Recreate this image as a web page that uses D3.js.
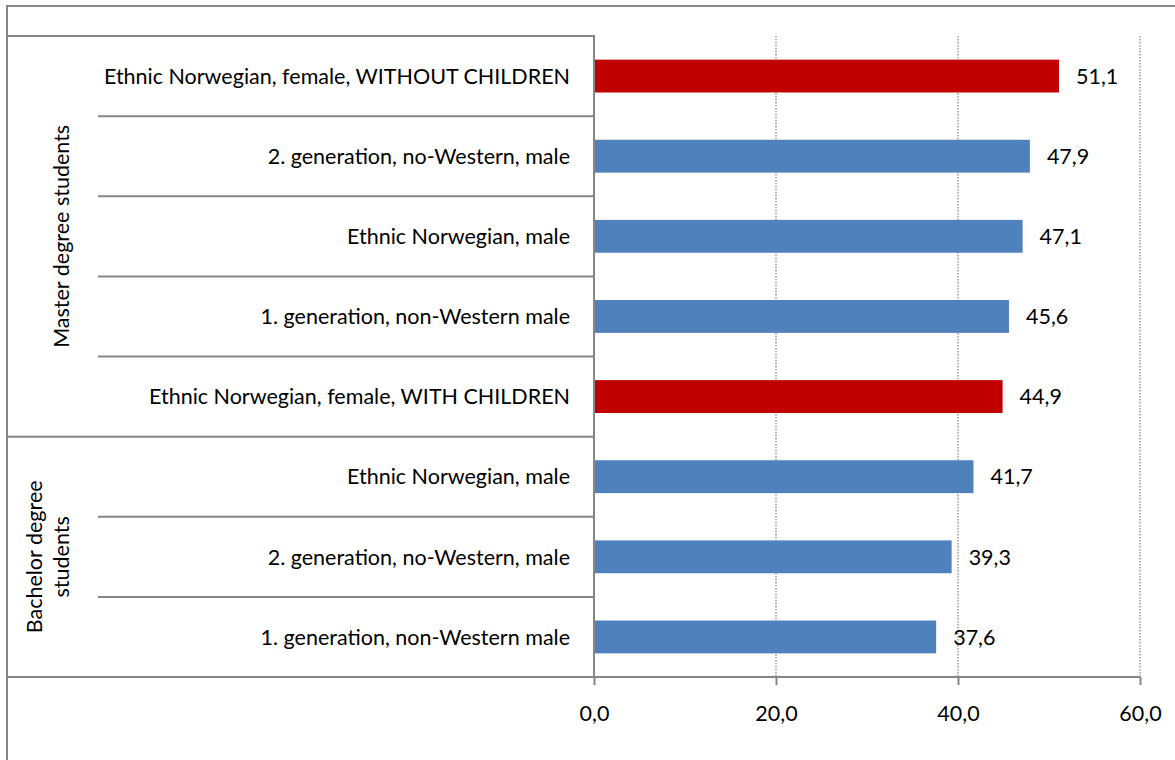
<!DOCTYPE html>
<html>
<head>
<meta charset="utf-8">
<script src="https://cdn.jsdelivr.net/npm/d3@7"></script>
<style>
  html, body { margin: 0; padding: 0; background: #fff; }
  svg { display: block; }
  text { font-family: Lato, "Open Sans", sans-serif; fill: #000; }
</style>
</head>
<body>
<svg id="chart" width="1175" height="760"></svg>
<script>
// Hourly workload by student group (top to bottom)
const groups = ["Master degree students", "Bachelor degree students"];
const groupLines = [["Master degree students"], ["Bachelor degree", "students"]];
const categories = [
  "Ethnic Norwegian, female, WITHOUT CHILDREN",
  "2. generation, no-Western, male",
  "Ethnic Norwegian, male",
  "1. generation, non-Western male",
  "Ethnic Norwegian, female, WITH CHILDREN",
  "Ethnic Norwegian, male",
  "2. generation, no-Western, male",
  "1. generation, non-Western male"
];
const categoryGroup = [0, 0, 0, 0, 0, 1, 1, 1];
const values = [51.1, 47.9, 47.1, 45.6, 44.9, 41.7, 39.3, 37.6];
const femaleFlag = [true, false, false, false, true, false, false, false];
const xTicks = [0, 20, 40, 60];

const svg = d3.select("#chart");
const axisColor = "#868686";
const fs = 21.5;

const plot = { left: 594, right: 1140, top: 36, bottom: 677 };
const outerLeft = 7;
const innerTickLeft = 98;

const keys = categories.map((c, i) => i);
const x = d3.scaleLinear().domain([0, 60]).range([plot.left, plot.right]);
const pad = 0.59;
const y = d3.scaleBand().domain(keys).range([plot.top, plot.bottom])
  .paddingInner(pad).paddingOuter(pad / 2);
const step = y.step();
const rowTop = i => y(i) - step * pad / 2;
const rowMid = i => y(i) + y.bandwidth() / 2;

const fmt = v => d3.format(".1f")(v).replace(".", ",");

// chart frame
svg.append("rect")
  .attr("x", outerLeft).attr("y", 6)
  .attr("width", 1300).attr("height", 900)
  .attr("fill", "none").attr("stroke", axisColor).attr("stroke-width", 2);

// dotted vertical gridlines
svg.append("g").selectAll("line")
  .data(xTicks.filter(t => t > 0))
  .join("line")
  .attr("x1", d => x(d)).attr("x2", d => x(d))
  .attr("y1", plot.top).attr("y2", plot.bottom)
  .attr("stroke", "#9a9a9a").attr("stroke-width", 1.5)
  .attr("stroke-dasharray", "1.5,1.5");

// bars
svg.append("g").selectAll("rect")
  .data(keys)
  .join("rect")
  .attr("x", x(0))
  .attr("y", i => y(i))
  .attr("width", i => x(values[i]) - x(0))
  .attr("height", y.bandwidth())
  .attr("fill", i => femaleFlag[i] ? "#C00000" : "#4F81BD");

// value labels
svg.append("g").selectAll("text")
  .data(keys)
  .join("text")
  .attr("x", i => x(values[i]) + 17)
  .attr("y", i => rowMid(i))
  .attr("dy", "0.36em")
  .attr("font-size", fs)
  .text(i => fmt(values[i]));

// value axis
const xAxis = svg.append("g")
  .attr("transform", `translate(0,${plot.bottom})`)
  .call(d3.axisBottom(x).tickValues(xTicks).tickSize(8).tickPadding(21).tickFormat(fmt));
xAxis.select(".domain").remove();
xAxis.selectAll(".tick line").attr("stroke", axisColor).attr("stroke-width", 2);
xAxis.selectAll(".tick text").attr("font-size", fs).attr("font-family", "Lato, sans-serif").attr("fill", "#000");

// axis lines
const lines = svg.append("g").attr("stroke", axisColor).attr("stroke-width", 2).attr("fill", "none");
lines.append("line").attr("x1", outerLeft).attr("x2", plot.right)
  .attr("y1", plot.bottom).attr("y2", plot.bottom);
lines.append("line").attr("x1", plot.left).attr("x2", plot.left)
  .attr("y1", plot.top - 1).attr("y2", plot.bottom);

// category separators: group boundaries span the full label area
keys.forEach(i => {
  const firstOfGroup = i === 0 || categoryGroup[i] !== categoryGroup[i - 1];
  lines.append("line")
    .attr("x1", firstOfGroup ? outerLeft : innerTickLeft)
    .attr("x2", plot.left)
    .attr("y1", rowTop(i)).attr("y2", rowTop(i));
});

// category labels
svg.append("g").selectAll("text")
  .data(keys)
  .join("text")
  .attr("x", plot.left - 24)
  .attr("y", i => rowMid(i))
  .attr("dy", "0.36em")
  .attr("text-anchor", "end")
  .attr("font-size", fs)
  .text(i => categories[i]);

// group labels, rotated; the last line sits nearest the category labels
groups.forEach((g, gi) => {
  const idx = keys.filter(i => categoryGroup[i] === gi);
  const top = rowTop(idx[0]);
  const bottom = rowTop(idx[idx.length - 1]) + step;
  const cy = (top + bottom) / 2;
  const linesTxt = groupLines[gi];
  const lh = 27;
  const cx = 61 - (linesTxt.length - 1) * lh;
  const t = svg.append("text")
    .attr("transform", `translate(${cx},${cy}) rotate(-90)`)
    .attr("text-anchor", "middle")
    .attr("font-size", fs);
  linesTxt.forEach((s, li) => {
    t.append("tspan").attr("x", 0).attr("y", li * lh).attr("dy", "0.36em").text(s);
  });
});
</script>
</body>
</html>
